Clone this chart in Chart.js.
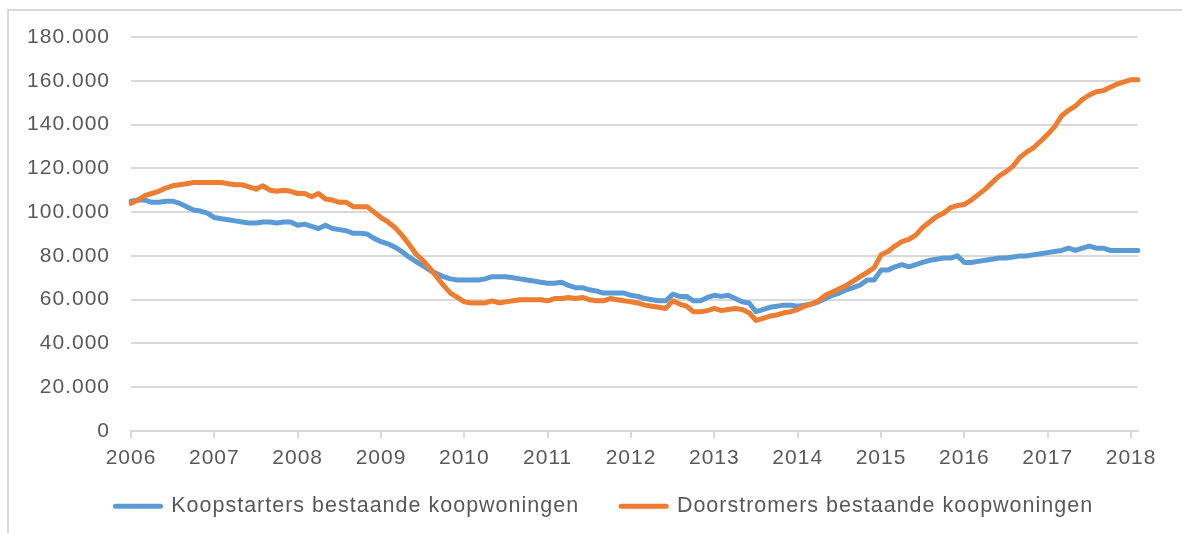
<!DOCTYPE html>
<html><head><meta charset="utf-8">
<script src="https://cdn.jsdelivr.net/npm/chart.js@4.4.1/dist/chart.umd.min.js"></script>
<style>
html,body{margin:0;padding:0;background:#fff;width:1182px;height:533px;overflow:hidden;}
#frame{position:absolute;left:7px;top:9px;width:1300px;height:700px;border-left:2px solid #d9d9d9;border-top:2px solid #d9d9d9;}
#wrap{position:absolute;left:0;top:0;width:1182px;height:533px;}
</style></head><body>
<div id="frame"></div>
<div id="wrap"><canvas id="c" width="1182" height="533"></canvas></div>
<script>
const YEARS = [2006,2007,2008,2009,2010,2011,2012,2013,2014,2015,2016,2017,2018];
const SERIES_NAMES = ['Koopstarters bestaande koopwoningen','Doorstromers bestaande koopwoningen'];
// monthly values in thousands, Jan 2006 .. Feb 2018
const KOOPSTARTERS = [
 105,105.5,105.5,104.5,104.5,105,105,104,102.5,101,100.5,99.5,
 97.5,97,96.5,96,95.5,95,95,95.5,95.5,95,95.5,95.5,
 94,94.5,93.5,92.5,94,92.5,92,91.5,90.3,90.3,90,88,
 86.5,85.5,84,82,79.5,77.5,75.5,73.5,72,70.5,69.5,69,
 69,69,69,69.5,70.5,70.5,70.5,70,69.5,69,68.5,68,
 67.5,67.5,68,66.5,65.5,65.5,64.5,64,63,63,63,63,
 62,61.5,60.5,60,59.5,59.5,62.5,61.5,61.5,59.5,59.5,61,
 62,61.5,62,60.5,59,58.5,54.5,55.5,56.5,57,57.5,57.5,
 57,57.5,58,59,60.5,62,63,64.5,65.5,66.7,69,69,
 73.5,73.5,75,76,75,76,77,78,78.5,79,79,80,
 77,77,77.5,78,78.5,79,79,79.5,80,80,80.5,81,
 81.5,82,82.5,83.5,82.5,83.5,84.5,83.5,83.5,82.5,82.5,82.5,
 82.5,82.5
];
const DOORSTROMERS = [
 104,105.5,107.5,108.5,109.5,111,112,112.5,113,113.5,113.5,113.5,
 113.5,113.5,113,112.5,112.5,111.5,110.5,112,110,109.5,110,109.5,
 108.5,108.5,107,108.5,106,105.5,104.5,104.5,102.5,102.5,102.5,100,
 97.5,95.5,93,89.5,85.5,81,78,74.5,70.5,66.5,63,61,
 59,58.5,58.5,58.5,59.5,58.5,59,59.5,60,60,60,60,
 59.5,60.5,60.5,61,60.5,61,60,59.5,59.5,60.5,60,59.5,
 59,58.5,57.5,57,56.5,56,59.5,58,57,54.5,54.5,55,
 56,55,55.5,56,55.5,54,50.5,51.5,52.5,53,54,54.5,
 55.5,57,58,59.5,62,63.5,65,66.5,68.5,70.5,72.5,74.5,
 80.5,82,84.5,86.5,87.5,89.5,93,95.5,98,99.5,102,103,
 103.5,105.5,108,110.5,113.5,116.5,118.5,121,125,127.5,129.5,132.5,
 135.5,139,144,146.5,148.5,151.5,153.5,155,155.5,157,158.5,159.5,
 160.5,160.5
];
const Y_TICKS = [0,20000,40000,60000,80000,100000,120000,140000,160000,180000];

const labels = KOOPSTARTERS.map((_, i) => (YEARS[0] + Math.floor(i / 12)) + '-' + String(i % 12 + 1).padStart(2, '0'));
const fmt = v => v === 0 ? '0' : String(v).replace(/\B(?=(\d{3})+(?!\d))/g, '.');
const FONT = "'Liberation Sans', Arial, sans-serif";
const TXT = '#595959';
const GRID = '#d9d9d9';
const LS = '1px';

const spacingPlugin = {
  id: 'spacing',
  beforeInit(c) { c.ctx.letterSpacing = LS; },
  beforeUpdate(c) { c.ctx.letterSpacing = LS; },
  beforeLayout(c) { c.ctx.letterSpacing = LS; },
  afterLayout(c) {
    // widen label clip boxes and shift legend block to match the reference
    if (c.scales.y) c.scales.y.left = 0;
    if (c.scales.x) c.scales.x.bottom = c.height;
    if (c.legend) { c.legend.left = 70.6; }
  },
  beforeDraw(c) { c.ctx.letterSpacing = LS; }
};

new Chart(document.getElementById('c'), {
  type: 'line',
  plugins: [spacingPlugin],
  data: {
    labels: labels,
    datasets: [
      { label: SERIES_NAMES[0], data: KOOPSTARTERS.map(v => v * 1000), borderColor: '#5B9BD5', backgroundColor: '#5B9BD5', borderWidth: 5, order: 2 },
      { label: SERIES_NAMES[1], data: DOORSTROMERS.map(v => v * 1000), borderColor: '#ED7D31', backgroundColor: '#ED7D31', borderWidth: 5, order: 1 }
    ]
  },
  options: {
    responsive: false,
    animation: false,
    devicePixelRatio: 1,
    elements: {
      line: { borderWidth: 5, tension: 0, borderJoinStyle: 'round', borderCapStyle: 'round', fill: false },
      point: { radius: 0, hoverRadius: 0 }
    },
    layout: { padding: { left: 0, right: 44, top: 37, bottom: 6 } },
    plugins: {
      tooltip: { enabled: false },
      legend: {
        position: 'bottom',
        labels: {
          usePointStyle: true, pointStyle: 'line', pointStyleWidth: 45,
          padding: 42, color: TXT, font: { family: FONT, size: 21.5 },
          sort: (a, b) => a.datasetIndex - b.datasetIndex,
          generateLabels: chart => Chart.defaults.plugins.legend.labels.generateLabels(chart)
            .map(l => Object.assign({}, l, { lineWidth: 5, lineCap: 'round' }))
        }
      }
    },
    scales: {
      x: {
        type: 'category',
        afterFit: s => { s.height = 22.5; },
        grid: { display: true, drawOnChartArea: false, drawTicks: true, tickLength: 7, color: GRID, lineWidth: 2 },
        border: { display: true, color: GRID, width: 2 },
        ticks: {
          autoSkip: false, maxRotation: 0, padding: 8, color: TXT, font: { family: FONT, size: 21 },
          callback: (v, i) => (i % 12 === 0 ? String(YEARS[i / 12]) : null)
        }
      },
      y: {
        min: 0, max: 180000,
        afterFit: s => { s.width = 131; },
        afterBuildTicks: s => { s.ticks = Y_TICKS.map(v => ({ value: v })); },
        grid: { color: GRID, lineWidth: 2, drawTicks: false },
        border: { display: false },
        ticks: { padding: 21, color: TXT, font: { family: FONT, size: 21 }, callback: v => fmt(v) }
      }
    }
  }
});
</script>
</body></html>
